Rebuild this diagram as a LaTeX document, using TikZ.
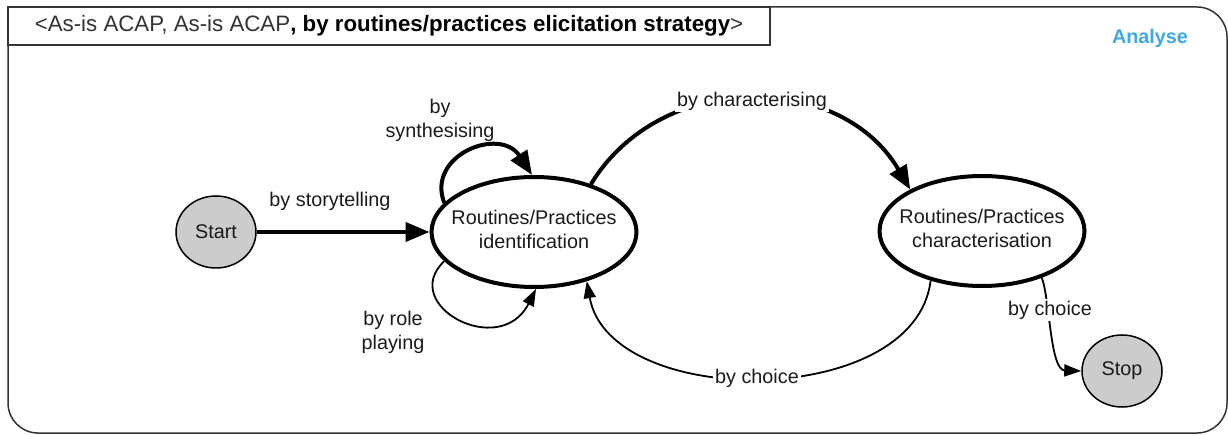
\documentclass[tikz,border=0pt]{standalone}
\usepackage{fontspec}
\setmainfont{Liberation Sans}
\usetikzlibrary{arrows.meta,shapes.geometric}
\definecolor{gfill}{HTML}{CCCCCC}
\definecolor{analyse}{HTML}{41A9E0}
\definecolor{framec}{HTML}{333333}
\definecolor{textc}{HTML}{1A1A1A}
\begin{document}
\begin{tikzpicture}[x=1pt,y=-1pt,
  every node/.style={font=\fontsize{19.8}{24}\selectfont, text=textc},
  state/.style={ellipse, draw, line width=4pt, minimum width=205pt, minimum height=110pt, inner sep=0pt},
  term/.style={ellipse, draw, line width=1.5pt, fill=gfill, minimum width=80pt, minimum height=72pt, inner sep=0pt},
  thickedge/.style={line width=4pt, -{Triangle[length=24pt,width=19pt]}},
  thinedge/.style={line width=1.8pt, -{Triangle[length=17pt,width=12pt]}},
  lab/.style={align=center, inner sep=1pt},
  wlab/.style={fill=white, inner sep=2pt}
]
\useasboundingbox (0,0) rectangle (1228,435);
% frame
\draw[framec, line width=1.5pt, rounded corners=30pt] (8,7) rectangle (1227,433);
\draw[framec, line width=1.5pt, fill=white] (8,7) rectangle (770,45);
\node (title) at (389,26) {\fontsize{22.3}{24}\selectfont\color{framec}<As-is ACAP, As-is ACAP{\bfseries\color{black}, by routines/practices elicitation strategy}>};
\node[font=\fontsize{19.8}{24}\selectfont\bfseries, text=analyse] (analyse) at (1150,38) {Analyse};

% states
\node[term] (start) at (216,232) {Start};
\node[state, label={[align=center, yshift=3pt]center:{Routines/Practices\\identification}}] (ident) at (534,232) {};
\node[state, label={[align=center, yshift=2.5pt]center:{Routines/Practices\\characterisation}}] (char) at (982,231) {};
\node[term] (stop) at (1122,371) {Stop};

% edges
\draw[thickedge] (start.east) -- (ident.west);
\draw[thickedge] (ident.162) .. controls (426,155) and (500,126) .. (ident.92);
\draw[thinedge] (ident.198) .. controls (398,305) and (500,360) .. (ident.272);
\draw[thickedge] (ident.40) .. controls (660,70) and (840,70) .. (char.150);
\draw[thinedge] (char.224) .. controls (915,410) and (610,410) .. (ident.317);
\draw[thinedge] (char.322) .. controls (1050,300) and (1050,370) .. (stop.west);

% labels
\node[lab] (l1) at (330,201) {by storytelling};
\node[lab] (l2) at (440,120) {by\\synthesising};
\node[lab] (l3) at (393,332) {by role\\playing};
\node[wlab] (l4) at (752,101) {by characterising};
\node[wlab] (l5) at (757,378) {by choice};
\node[wlab] (l6) at (1050,310) {by choice};
\end{tikzpicture}
\end{document}
